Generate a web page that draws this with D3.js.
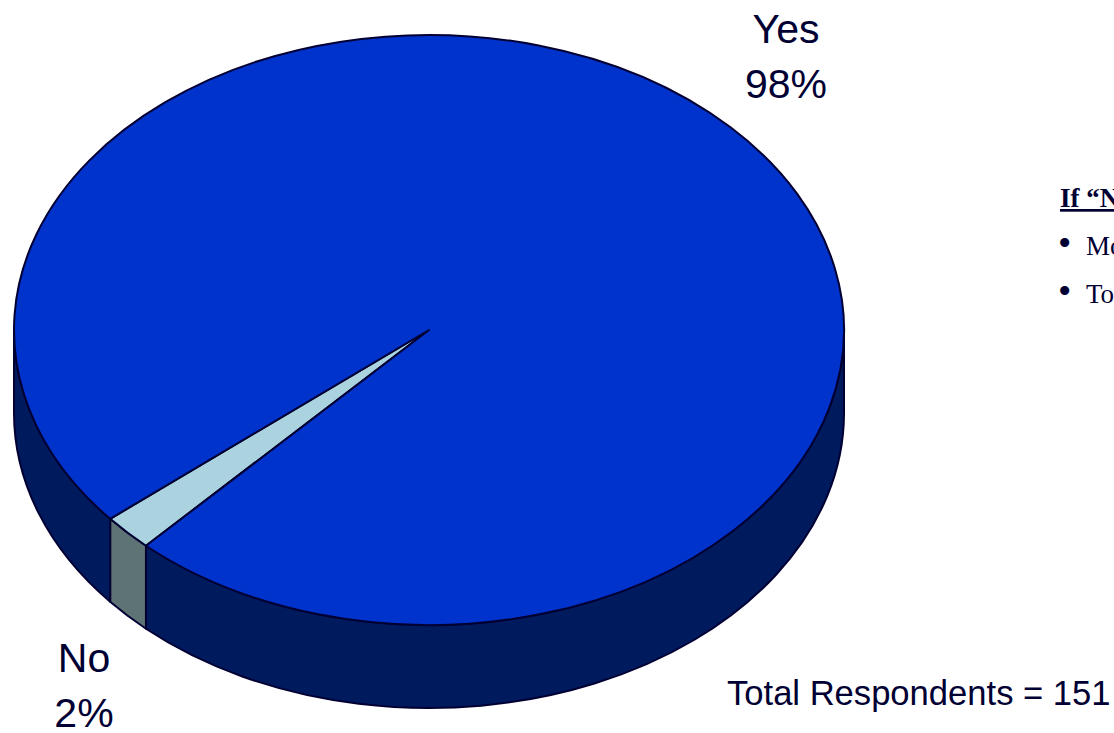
<!DOCTYPE html>
<html>
<head>
<meta charset="utf-8">
<script src="https://cdn.jsdelivr.net/npm/d3@7"></script>
<style>
  html, body { margin: 0; padding: 0; background: #ffffff; overflow: hidden; }
  svg { display: block; }
</style>
</head>
<body>
<svg id="chart" width="1114" height="733"></svg>
<script>
// ---- data ----
const categories = ["No", "Yes"];
const values = [2, 98];
const percentLabels = ["2%", "98%"];
const noteHeading = "If \u201CNo,\u201D why not?";
const noteItems = ["Money", "Too busy"];
const totalText = "Total Respondents = 151";

// ---- styling / layout ----
const topColors = { "Yes": "#0033CC", "No": "#AAD3DF" };
const sideColors = { "Yes": "#001A5E", "No": "#5E7373" };
const strokeColor = "#000033";
const cx = 429, cy = 330, rx = 415, ry = 295, depth = 83;
const deg = Math.PI / 180;

const svg = d3.select("#chart");

const pie = d3.pie().sort(null).value(d => d.value)
  .startAngle(223 * deg).endAngle(223 * deg + 2 * Math.PI);
const data = categories.map((c, i) => ({ cat: c, value: values[i], label: percentLabels[i] }));
const arcs = pie(data);

const px = a => cx + rx * Math.sin(a);
const py = (a, off = 0) => cy - ry * Math.cos(a) + off;

// outer side pieces: visible front range d3 angle in [90,270] (mod 360)
function frontRanges(a0, a1) {
  const out = [];
  for (let k = -1; k <= 2; k++) {
    const f0 = Math.PI / 2 + k * 2 * Math.PI, f1 = 3 * Math.PI / 2 + k * 2 * Math.PI;
    const s = Math.max(a0, f0), e = Math.min(a1, f1);
    if (e > s + 1e-6) out.push([s, e]);
  }
  return out;
}

function sidePath(s, e) {
  const large = (e - s) > Math.PI ? 1 : 0;
  return `M${px(s)},${py(s)} A${rx},${ry} 0 ${large} 1 ${px(e)},${py(e)} ` +
         `L${px(e)},${py(e, depth)} A${rx},${ry} 0 ${large} 0 ${px(s)},${py(s, depth)} Z`;
}
function topPath(s, e) {
  const large = (e - s) > Math.PI ? 1 : 0;
  return `M${cx},${cy} L${px(s)},${py(s)} A${rx},${ry} 0 ${large} 1 ${px(e)},${py(e)} Z`;
}

const sides = [];
arcs.forEach(a => frontRanges(a.startAngle, a.endAngle).forEach(r => sides.push({ cat: a.data.cat, r })));

const g = svg.append("g");
g.selectAll("path.side").data(sides).join("path")
  .attr("class", "side")
  .attr("d", d => sidePath(d.r[0], d.r[1]))
  .attr("fill", d => sideColors[d.cat])
  .attr("stroke", strokeColor).attr("stroke-width", 2).attr("stroke-linejoin", "round");

g.selectAll("path.top").data(arcs).join("path")
  .attr("class", "top")
  .attr("d", d => topPath(d.startAngle, d.endAngle))
  .attr("fill", d => topColors[d.data.cat])
  .attr("stroke", strokeColor).attr("stroke-width", 2).attr("stroke-linejoin", "round");

// ---- labels ----
const labelPos = { "Yes": [786, 43], "No": [84, 672] };
const lab = svg.append("g").attr("font-family", "'Liberation Sans', Arial, sans-serif")
  .attr("font-size", 41).attr("fill", strokeColor).attr("text-anchor", "middle");
arcs.forEach(a => {
  const p = labelPos[a.data.cat];
  lab.append("text").attr("x", p[0]).attr("y", p[1]).text(a.data.cat);
  lab.append("text").attr("x", p[0]).attr("y", p[1] + 55).text(a.data.label);
});

svg.append("text")
  .attr("x", 727).attr("y", 705)
  .attr("font-family", "'Liberation Sans', Arial, sans-serif")
  .attr("font-size", 34.6).attr("fill", strokeColor)
  .text(totalText);

const note = svg.append("g").attr("font-family", "'Liberation Serif', 'Times New Roman', serif")
  .attr("font-size", 27).attr("fill", strokeColor);
note.append("text").attr("x", 1060).attr("y", 207)
  .attr("font-weight", "bold").attr("text-decoration", "underline").text(noteHeading);
noteItems.forEach((t, i) => {
  const tx = note.append("text").attr("y", 255 + i * 48);
  tx.append("tspan").attr("x", 1058).attr("font-size", 38).attr("dy", 1).text("\u2022");
  tx.append("tspan").attr("x", 1086).attr("dy", -1).text(t);
});
</script>
</body>
</html>
